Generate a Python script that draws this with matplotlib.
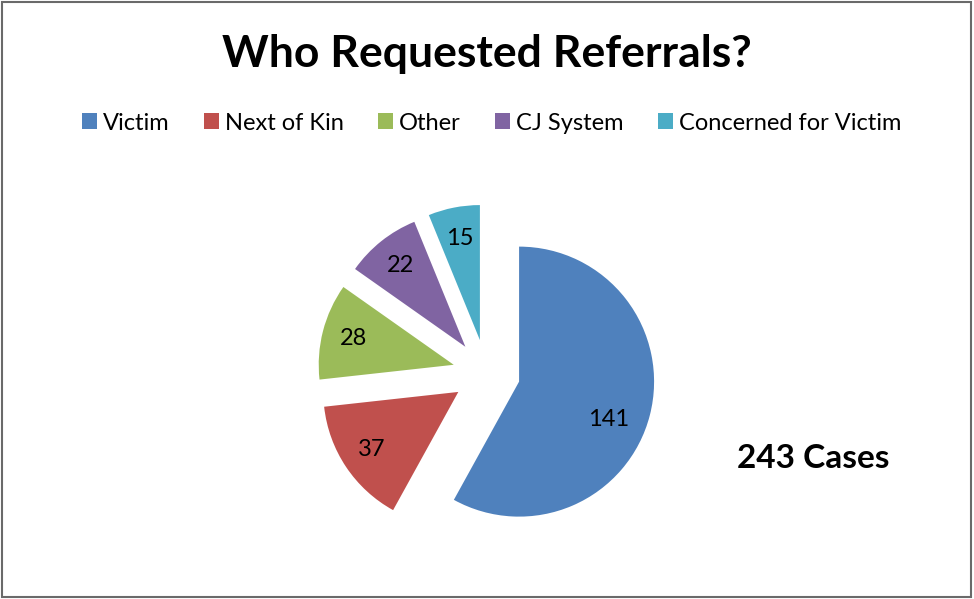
import numpy as np
import matplotlib
matplotlib.use("Agg")
import matplotlib.pyplot as plt
from matplotlib.patches import Rectangle

# data
labels = ["Victim", "Next of Kin", "Other", "CJ System", "Concerned for Victim"]
counts = [141, 37, 28, 22, 15]
colors = ["#4F81BD", "#C0504D", "#9BBB59", "#8064A2", "#4BACC6"]
total_text = "243 Cases"

plt.rcParams['font.family'] = ['Lato', 'DejaVu Sans']

W, H = 974, 599
fig = plt.figure(figsize=(W / 100, H / 100), dpi=100)

# pie axes: 135 px per data unit, centre at (486, 373) px from top
r_px = 135.0
L = 1.5
cx, cy = 486.4, H - 373.2
side = 2 * L * r_px
ax = fig.add_axes([(cx - side / 2) / W, (cy - side / 2) / H, side / W, side / H])

wedges, _ = ax.pie(counts, colors=colors, startangle=90, counterclock=False,
                   explode=[0.25] * len(counts), radius=1.0)
ax.set_xlim(-L, L)
ax.set_ylim(-L, L)
ax.set_aspect('equal')
ax.axis('off')

# value labels inside each slice
for i, (w, v) in enumerate(zip(wedges, counts)):
    mid = np.deg2rad((w.theta1 + w.theta2) / 2)
    frac = 0.77
    if i == 0:
        mid -= np.deg2rad(8.6)
        frac = 0.72
    x = w.center[0] + frac * np.cos(mid)
    y = w.center[1] + frac * np.sin(mid)
    ax.text(x, y, str(v), ha='center', va='center', fontsize=17, color='black')

fig.text(487 / W, 1 - 54 / H, "Who Requested Referrals?", ha='center', va='center',
         fontsize=32, fontweight='bold')

handles = [Rectangle((0, 0), 1, 1, facecolor=c, edgecolor='none') for c in colors]
fig.legend(handles, labels, loc='center', bbox_to_anchor=(491.5 / W, 1 - 123 / H),
           ncol=5, frameon=False, fontsize=17, handlelength=0.64, handleheight=0.64,
           handletextpad=0.25, columnspacing=1.45, borderpad=0)

fig.text(813 / W, 1 - 458 / H, total_text, ha='center', va='center',
         fontsize=24, fontweight='bold')

fig.patches.append(Rectangle((2 / W, 1 - 597 / H), 969 / W, (595.5) / H,
                             transform=fig.transFigure, fill=False,
                             edgecolor='#6a6a6a', linewidth=1.5))

fig.savefig("out.png", dpi=100)
